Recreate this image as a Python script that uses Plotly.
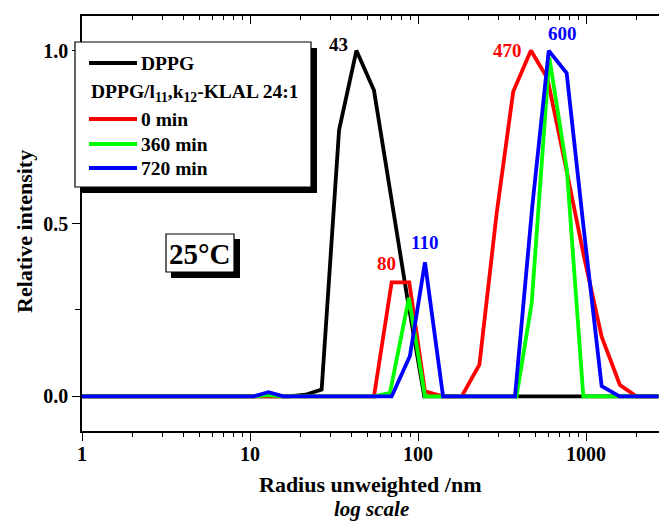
import numpy as np
import plotly.graph_objects as go

# Size distributions (radius in nm, relative intensity)
radius_dppg = [1, 17, 21.4, 26.7, 33.9, 43, 54.7, 68.9, 86.7, 109, 2700]
intensity_dppg = [0, 0, 0.005, 0.02, 0.77, 1.0, 0.885, 0.58, 0.28, 0, 0]

radius_0min = [1, 54.7, 69.7, 88.7, 110, 140, 182, 232, 294, 369, 470, 589, 759, 977, 1239, 1592, 1995, 2700]
intensity_0min = [0, 0, 0.33, 0.33, 0.015, 0, 0, 0.092, 0.53, 0.882, 1.0, 0.92, 0.663, 0.40, 0.173, 0.033, 0, 0]

radius_360min = [1, 10.5, 12.9, 15.8, 55, 68.1, 88.3, 110, 386, 475, 605, 769, 964, 2700]
intensity_360min = [0, 0, 0.004, 0, 0, 0.01, 0.285, 0, 0, 0.27, 0.98, 0.656, 0, 0]

radius_720min = [1, 10.5, 12.9, 15.8, 69.7, 89.5, 110, 141, 378, 479, 600, 767, 977, 1239, 1585, 2700]
intensity_720min = [0, 0, 0.012, 0, 0, 0.117, 0.388, 0, 0, 0.55, 1.0, 0.935, 0.47, 0.03, 0, 0]

series_names = ["DPPG", "0 min", "360 min", "720 min"]
series_colors = ["#000000", "#ff0000", "#00ff00", "#0000ff"]

# Peak labels: (text, radius, intensity, colour index, xshift, yshift, xanchor)
peak_labels = [
    ("43", 43, 1.0, 0, -6, 6, "right"),
    ("80", 80, 0.33, 1, -15, 19, "center"),
    ("110", 110, 0.388, 3, 0, 20, "center"),
    ("470", 470, 1.0, 1, -7, 0, "right"),
    ("600", 600, 1.0, 3, 14, 17, "center"),
]

x_major = [1, 10, 100, 1000]
x_minor = [m * d for d in (1, 10, 100, 1000) for m in range(2, 10) if m * d < 2700]

FONT = "Liberation Serif, Times New Roman, serif"

# Plot area geometry (pixels)
W, H = 659, 523
ML, MR, MT, MB = 82, 0, 16, 92
PW, PH = W - ML - MR, H - MT - MB


def px(x):
    return (x - ML) / PW


def py(y):
    return (H - MB - y) / PH


fig = go.Figure()
all_x = [radius_dppg, radius_0min, radius_360min, radius_720min]
all_y = [intensity_dppg, intensity_0min, intensity_360min, intensity_720min]
for xs, ys, name, col in zip(all_x, all_y, series_names, series_colors):
    fig.add_trace(go.Scatter(x=xs, y=ys, mode="lines", name=name,
                             line=dict(color=col, width=3.8), showlegend=False))

# invisible trace for the mirrored top axis
fig.add_trace(go.Scatter(x=[1, 2700], y=[0, 0], xaxis="x2", mode="lines",
                         line=dict(width=0), hoverinfo="skip", showlegend=False))

xrange = [0, PW / 168.0]
fig.update_layout(
    width=W, height=H,
    margin=dict(l=ML, r=MR, t=MT, b=MB),
    paper_bgcolor="white", plot_bgcolor="white",
    font=dict(family=FONT, color="black"),
    xaxis=dict(type="log", range=xrange, showgrid=False, zeroline=False,
               showline=True, linecolor="black", linewidth=1.5,
               ticks="outside", ticklen=8, tickwidth=1.3, tickcolor="black",
               tickvals=x_major, ticktext=[str(v) for v in x_major],
               ticklabelstandoff=-4,
               tickfont=dict(family=FONT, size=20, weight="bold"),
               minor=dict(tickvals=x_minor, ticks="outside", ticklen=4,
                          tickwidth=1.1, tickcolor="black", showgrid=False)),
    xaxis2=dict(type="log", range=xrange, overlaying="x", side="top",
                showgrid=False, zeroline=False, showline=True,
                linecolor="black", linewidth=1.5, ticks="inside", ticklen=8,
                tickwidth=1.3, tickcolor="black", tickvals=x_major,
                showticklabels=False,
                minor=dict(tickvals=x_minor, ticks="inside", ticklen=4,
                           tickwidth=1.1, tickcolor="black", showgrid=False)),
    yaxis=dict(range=[-0.1, 1.1], showgrid=False, zeroline=False,
               showline=True, linecolor="black", linewidth=1.5,
               ticks="outside", ticklen=8, tickwidth=1.3, tickcolor="black",
               tickvals=[0, 0.5, 1.0], ticktext=["0.0", "0.5", "1.0"],
               tickfont=dict(family=FONT, size=20, weight="bold"),
               minor=dict(tickvals=[0.25, 0.75], ticks="outside", ticklen=5,
                          tickwidth=1.1, tickcolor="black", showgrid=False)),
)

shapes = []
annotations = []

# Legend box with drop shadow
shapes.append(dict(type="rect", xref="paper", yref="paper",
                   x0=px(81), x1=px(317), y0=py(193), y1=py(48),
                   fillcolor="black", line=dict(width=0), layer="above"))
shapes.append(dict(type="rect", xref="paper", yref="paper",
                   x0=px(75), x1=px(311), y0=py(187), y1=py(42),
                   fillcolor="white", line=dict(color="black", width=1.2),
                   layer="above"))
legend_rows = [(0, 63), (1, 119), (2, 144), (3, 168)]
for idx, yy in legend_rows:
    shapes.append(dict(type="line", xref="paper", yref="paper",
                       x0=px(89), x1=px(137), y0=py(yy), y1=py(yy),
                       line=dict(color=series_colors[idx], width=4),
                       layer="above"))
    annotations.append(dict(text=series_names[idx], xref="paper", yref="paper",
                            x=px(139), y=py(yy), xanchor="left",
                            yanchor="middle", showarrow=False,
                            font=dict(family=FONT, size=19.5, weight="bold")))
annotations.append(dict(text="DPPG/l<sub>11</sub>,k<sub>12</sub>-KLAL 24:1",
                        xref="paper", yref="paper", x=px(89), y=py(93),
                        xanchor="left", yanchor="middle", showarrow=False,
                        font=dict(family=FONT, size=19.5, weight="bold")))

# Temperature box with drop shadow
shapes.append(dict(type="rect", xref="paper", yref="paper",
                   x0=px(171), x1=px(240), y0=py(278), y1=py(239),
                   fillcolor="black", line=dict(width=0), layer="above"))
shapes.append(dict(type="rect", xref="paper", yref="paper",
                   x0=px(166), x1=px(234), y0=py(272), y1=py(234),
                   fillcolor="white", line=dict(color="black", width=1.2),
                   layer="above"))
annotations.append(dict(text="25°C", xref="paper", yref="paper",
                        x=px(200), y=py(254), xanchor="center",
                        yanchor="middle", showarrow=False,
                        font=dict(family=FONT, size=29, weight="bold")))

# Peak labels
for text, r, v, ci, xs, ys, xa in peak_labels:
    annotations.append(dict(text=text, x=np.log10(r), y=v, xref="x", yref="y",
                            xanchor=xa, yanchor="middle", xshift=xs, yshift=ys,
                            showarrow=False,
                            font=dict(family=FONT, size=19, weight="bold",
                                      color=series_colors[ci])))

# Axis titles
annotations.append(dict(text="Radius unweighted /nm", xref="paper",
                        yref="paper", x=px(370), y=py(484), xanchor="center",
                        yanchor="middle", showarrow=False,
                        font=dict(family=FONT, size=22, weight="bold")))
annotations.append(dict(text="<i>log scale</i>", xref="paper", yref="paper",
                        x=px(371), y=py(509), xanchor="center",
                        yanchor="middle", showarrow=False,
                        font=dict(family=FONT, size=21, weight="bold")))
annotations.append(dict(text="Relative intensity", xref="paper", yref="paper",
                        x=px(24), y=py(232), xanchor="center",
                        yanchor="middle", textangle=-90, showarrow=False,
                        font=dict(family=FONT, size=22, weight="bold")))

fig.update_layout(shapes=shapes, annotations=annotations)
fig.write_html("out.html")
